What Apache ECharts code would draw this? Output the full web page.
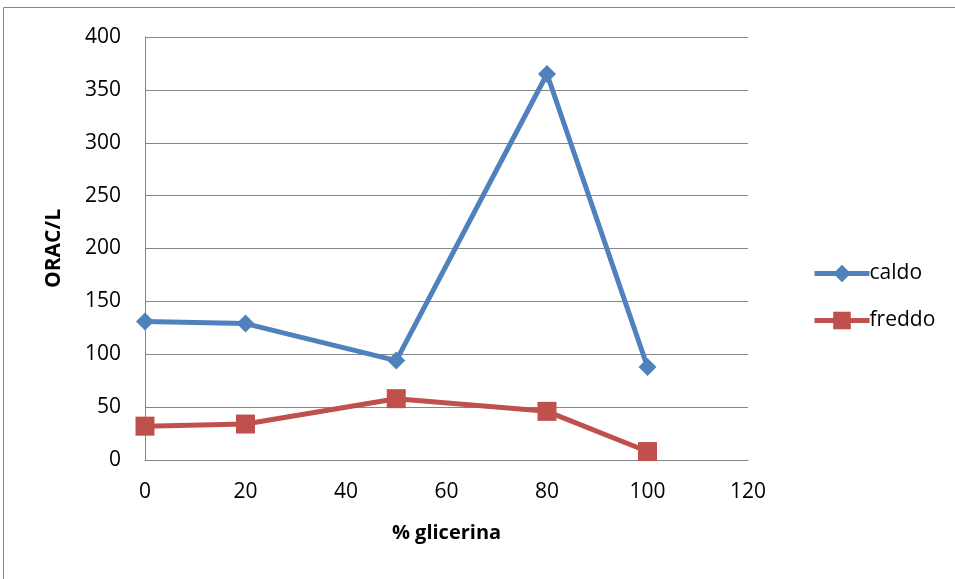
<!DOCTYPE html>
<html>
<head>
<meta charset="utf-8">
<script src="https://cdn.jsdelivr.net/npm/echarts@6/dist/echarts.min.js"></script>
<style>
  html, body { margin: 0; padding: 0; background: #fff; }
  #chart { width: 955px; height: 579px; }
</style>
</head>
<body>
<div id="chart"></div>
<script>
// % glicerina on the x axis
const glicerina = [0, 20, 50, 80, 100];
// ORAC/L values for each extraction
const caldo = [131, 129, 94, 365, 88];
const freddo = [32, 34, 58, 46, 8];

const FONT = '"Open Sans", Lato, sans-serif';

const chart = echarts.init(document.getElementById('chart'));
chart.setOption({
  animation: false,
  backgroundColor: '#fff',
  graphic: [{
    type: 'rect',
    shape: { x: 3.5, y: 7.5, width: 1000, height: 1000 },
    style: { fill: 'none', stroke: '#868686', lineWidth: 1 },
    silent: true
  }],
  grid: { left: 145, right: 207, top: 37, bottom: 119, containLabel: false },
  xAxis: {
    type: 'value',
    min: 0, max: 120, interval: 20,
    name: '% glicerina',
    nameLocation: 'middle',
    nameGap: 63,
    nameTextStyle: { fontFamily: FONT, fontSize: 20, fontWeight: 'bold', color: '#000' },
    axisLine: { show: true, lineStyle: { color: '#868686', width: 1 } },
    axisTick: { show: false },
    splitLine: { show: false },
    axisLabel: { fontFamily: FONT, fontSize: 21, color: '#000', margin: 22 }
  },
  yAxis: {
    type: 'value',
    min: 0, max: 400, interval: 50,
    name: 'ORAC/L',
    nameLocation: 'middle',
    nameGap: 80,
    nameRotate: 90,
    nameTextStyle: { fontFamily: FONT, fontSize: 21, fontWeight: 'bold', color: '#000' },
    axisLine: { show: true, lineStyle: { color: '#868686', width: 1 } },
    axisTick: { show: false },
    splitLine: { show: true, lineStyle: { color: '#868686', width: 1 } },
    axisLabel: { fontFamily: FONT, fontSize: 21, color: '#000', margin: 24 }
  },
  legend: {
    orient: 'vertical',
    left: 807,
    top: 258,
    itemWidth: 55,
    itemHeight: 22,
    itemGap: 26,
    lineStyle: { width: 5 },
    textStyle: { fontFamily: FONT, fontSize: 21, color: '#000', padding: [0, 0, 0, -5] },
    data: ['caldo', 'freddo']
  },
  series: [
    {
      name: 'caldo',
      type: 'line',
      data: glicerina.map((x, i) => [x, caldo[i]]),
      symbol: 'diamond',
      symbolSize: 18,
      lineStyle: { color: '#4F81BD', width: 5 },
      itemStyle: { color: '#4F81BD' }
    },
    {
      name: 'freddo',
      type: 'line',
      data: glicerina.map((x, i) => [x, freddo[i]]),
      symbol: 'rect',
      symbolSize: 19,
      lineStyle: { color: '#C0504D', width: 5 },
      itemStyle: { color: '#C0504D' }
    }
  ]
});
</script>
</body>
</html>
